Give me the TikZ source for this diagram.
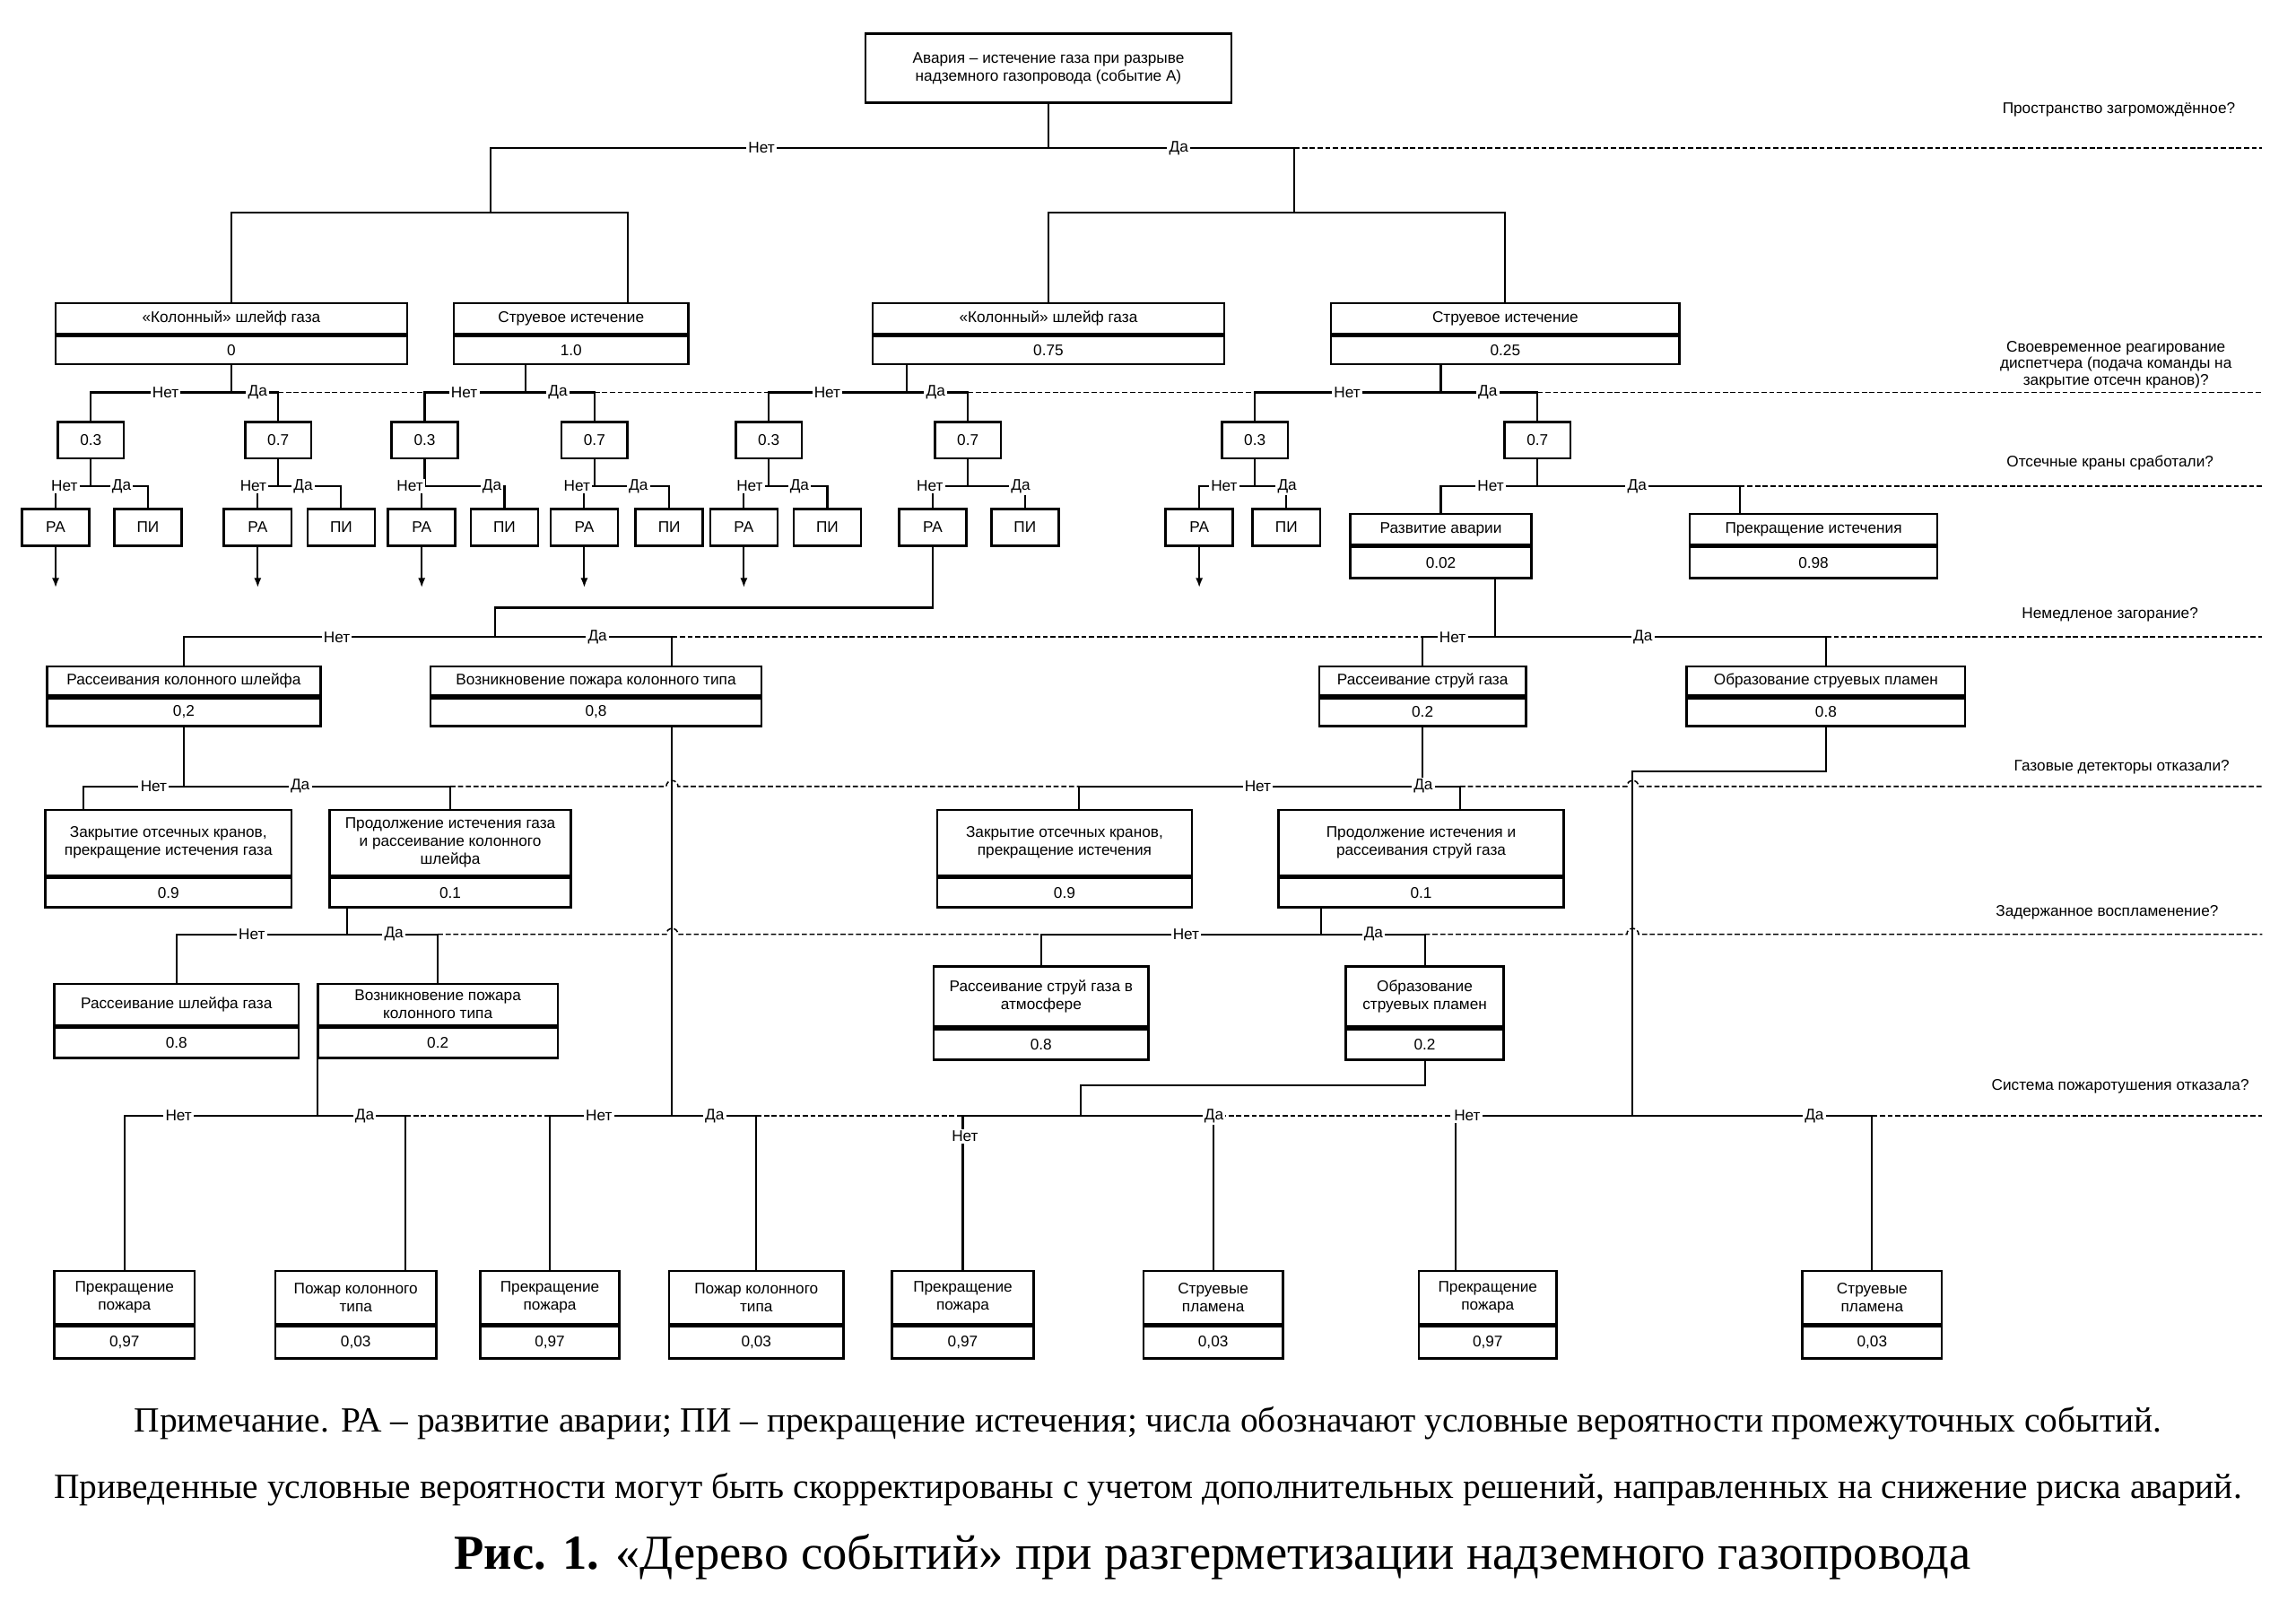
\documentclass[tikz,border=0pt]{standalone}
\usepackage{fontspec}
\setmainfont{Liberation Serif}
\setsansfont{Liberation Sans}
\usetikzlibrary{arrows.meta,backgrounds}

\begin{document}
\begin{tikzpicture}[x=0.03cm, y=-0.03cm,
  every node/.style={font=\sffamily\fontsize{9}{10.5}\selectfont},
  >={Latex[length=2mm]},
  box/.style={draw, line width=1.4pt, fill=white, align=center, inner sep=1pt},
  sm/.style={box, minimum width=1.38cm, minimum height=0.75cm},
  lbl/.style={fill=white, inner sep=1.2pt},
  qst/.style={align=center},
  con/.style={line width=1.1pt},
  dsh/.style={line width=0.8pt, dash pattern=on 3pt off 1.5pt}]
\useasboundingbox (0,0) rectangle (1568,1105);

% исходное событие
\node[box, minimum width=7.5cm, minimum height=1.41cm] (acc) at (716,46.5) {Авария – истечение газа при разрыве\\надземного газопровода (событие А)};

% вид истечения
\node[box, minimum width=7.2cm, minimum height=0.63cm] (k1) at (158,217.5) {«Колонный» шлейф газа};
\node[box, minimum width=7.2cm, minimum height=0.57cm, anchor=north] (k1v) at (k1.south) {0};
\node[box, minimum width=4.8cm, minimum height=0.63cm] (s1) at (390,217.5) {Струевое истечение};
\node[box, minimum width=4.8cm, minimum height=0.57cm, anchor=north] (s1v) at (s1.south) {1.0};
\node[box, minimum width=7.2cm, minimum height=0.63cm] (k2) at (716,217.5) {«Колонный» шлейф газа};
\node[box, minimum width=7.2cm, minimum height=0.57cm, anchor=north] (k2v) at (k2.south) {0.75};
\node[box, minimum width=7.14cm, minimum height=0.63cm] (s2) at (1028,217.5) {Струевое истечение};
\node[box, minimum width=7.14cm, minimum height=0.57cm, anchor=north] (s2v) at (s2.south) {0.25};

% реакция диспетчера
\node[sm, minimum width=1.35cm] (p1) at (62,300.5) {0.3};
\node[sm, minimum width=1.35cm] (p2) at (190,300.5) {0.7};
\node[sm, minimum width=1.35cm] (p3) at (290,300.5) {0.3};
\node[sm, minimum width=1.35cm] (p4) at (406,300.5) {0.7};
\node[sm, minimum width=1.35cm] (p5) at (525,300.5) {0.3};
\node[sm, minimum width=1.35cm] (p6) at (661,300.5) {0.7};
\node[sm, minimum width=1.35cm] (p7) at (857,300.5) {0.3};
\node[sm, minimum width=1.35cm] (p8) at (1050,300.5) {0.7};

% краны
\node[sm] (ra1) at (38,360) {РА};
\node[sm] (pi1) at (101,360) {ПИ};
\node[sm] (ra2) at (176,360) {РА};
\node[sm] (pi2) at (233,360) {ПИ};
\node[sm] (ra3) at (288,360) {РА};
\node[sm] (pi3) at (344.5,360) {ПИ};
\node[sm] (ra4) at (399,360) {РА};
\node[sm] (pi4) at (457,360) {ПИ};
\node[sm] (ra5) at (508,360) {РА};
\node[sm] (pi5) at (565,360) {ПИ};
\node[sm] (ra6) at (637,360) {РА};
\node[sm] (pi6) at (700,360) {ПИ};
\node[sm] (ra7) at (819,360) {РА};
\node[sm] (pi7) at (878.5,360) {ПИ};
\node[box, minimum width=3.72cm, minimum height=0.63cm] (raz) at (984,361.5) {Развитие аварии};
\node[box, minimum width=3.72cm, minimum height=0.63cm, anchor=north] (razv) at (raz.south) {0.02};
\node[box, minimum width=5.07cm, minimum height=0.63cm] (piz) at (1238.5,361.5) {Прекращение истечения};
\node[box, minimum width=5.07cm, minimum height=0.63cm, anchor=north] (pizv) at (piz.south) {0.98};

% загорание
\node[box, minimum width=5.61cm, minimum height=0.6cm] (rk) at (125.5,465) {Рассеивания колонного шлейфа};
\node[box, minimum width=5.61cm, minimum height=0.57cm, anchor=north] (rkv) at (rk.south) {0,2};
\node[box, minimum width=6.78cm, minimum height=0.6cm] (vk) at (407,465) {Возникновение пожара колонного типа};
\node[box, minimum width=6.78cm, minimum height=0.57cm, anchor=north] (vkv) at (vk.south) {0,8};
\node[box, minimum width=4.23cm, minimum height=0.6cm] (rs) at (971.5,465) {Рассеивание струй газа};
\node[box, minimum width=4.23cm, minimum height=0.57cm, anchor=north] (rsv) at (rs.south) {0.2};
\node[box, minimum width=5.7cm, minimum height=0.6cm] (os) at (1247,465) {Образование струевых пламен};
\node[box, minimum width=5.7cm, minimum height=0.57cm, anchor=north] (osv) at (os.south) {0.8};

% детекторы
\node[box, minimum width=5.04cm, minimum height=1.35cm] (zk) at (115,575.5) {Закрытие отсечных кранов,\\прекращение истечения газа};
\node[box, minimum width=5.04cm, minimum height=0.6cm, anchor=north] (zkv) at (zk.south) {0.9};
\node[box, minimum width=4.95cm, minimum height=1.35cm] (pk) at (307.5,575.5) {Продолжение истечения газа\\и рассеивание колонного\\шлейфа};
\node[box, minimum width=4.95cm, minimum height=0.6cm, anchor=north] (pkv) at (pk.south) {0.1};
\node[box, minimum width=5.22cm, minimum height=1.35cm] (zs) at (727,575.5) {Закрытие отсечных кранов,\\прекращение истечения};
\node[box, minimum width=5.22cm, minimum height=0.6cm, anchor=north] (zsv) at (zs.south) {0.9};
\node[box, minimum width=5.85cm, minimum height=1.35cm] (ps) at (970.5,575.5) {Продолжение истечения и\\рассеивания струй газа};
\node[box, minimum width=5.85cm, minimum height=0.6cm, anchor=north] (psv) at (ps.south) {0.1};

% задержанное воспламенение
\node[box, minimum width=5.01cm, minimum height=0.84cm] (rsh) at (120.5,686) {Рассеивание шлейфа газа};
\node[box, minimum width=5.01cm, minimum height=0.63cm, anchor=north] (rshv) at (rsh.south) {0.8};
\node[box, minimum width=4.92cm, minimum height=0.84cm] (vk2) at (299,686) {Возникновение пожара\\колонного типа};
\node[box, minimum width=4.92cm, minimum height=0.63cm, anchor=north] (vk2v) at (vk2.south) {0.2};
\node[box, minimum width=4.4cm, minimum height=1.23cm] (ra) at (711,680.5) {Рассеивание струй газа в\\атмосфере};
\node[box, minimum width=4.4cm, minimum height=0.63cm, anchor=north] (rav) at (ra.south) {0.8};
\node[box, minimum width=3.24cm, minimum height=1.23cm] (ob) at (973,680.5) {Образование\\струевых пламен};
\node[box, minimum width=3.24cm, minimum height=0.63cm, anchor=north] (obv) at (ob.south) {0.2};

% исходы
\node[box, minimum width=2.88cm, minimum height=1.08cm] (b1) at (85,886) {Прекращение\\пожара};
\node[box, minimum width=2.88cm, minimum height=0.66cm, anchor=north] (b1v) at (b1.south) {0,97};
\node[box, minimum width=3.3cm, minimum height=1.08cm] (b2) at (243,886) {Пожар колонного\\типа};
\node[box, minimum width=3.3cm, minimum height=0.66cm, anchor=north] (b2v) at (b2.south) {0,03};
\node[box, minimum width=2.85cm, minimum height=1.08cm] (b3) at (375.5,886) {Прекращение\\пожара};
\node[box, minimum width=2.85cm, minimum height=0.66cm, anchor=north] (b3v) at (b3.south) {0,97};
\node[box, minimum width=3.57cm, minimum height=1.08cm] (b4) at (516.5,886) {Пожар колонного\\типа};
\node[box, minimum width=3.57cm, minimum height=0.66cm, anchor=north] (b4v) at (b4.south) {0,03};
\node[box, minimum width=2.91cm, minimum height=1.08cm] (b5) at (657.5,886) {Прекращение\\пожара};
\node[box, minimum width=2.91cm, minimum height=0.66cm, anchor=north] (b5v) at (b5.south) {0,97};
\node[box, minimum width=2.85cm, minimum height=1.08cm] (b6) at (828.5,886) {Струевые\\пламена};
\node[box, minimum width=2.85cm, minimum height=0.66cm, anchor=north] (b6v) at (b6.south) {0,03};
\node[box, minimum width=2.82cm, minimum height=1.08cm] (b7) at (1016,886) {Прекращение\\пожара};
\node[box, minimum width=2.82cm, minimum height=0.66cm, anchor=north] (b7v) at (b7.south) {0,97};
\node[box, minimum width=2.85cm, minimum height=1.08cm] (b8) at (1278.5,886) {Струевые\\пламена};
\node[box, minimum width=2.85cm, minimum height=0.66cm, anchor=north] (b8v) at (b8.south) {0,03};

% Нет / Да
\node[lbl] (n1) at (520,101) {Нет};
\node[lbl] (d1) at (805,101) {Да};
\node[lbl] (n2a) at (113,268) {Нет};
\node[lbl] (d2a) at (176,268) {Да};
\node[lbl] (n2b) at (317,268) {Нет};
\node[lbl] (d2b) at (381,268) {Да};
\node[lbl] (n2c) at (565,268) {Нет};
\node[lbl] (d2c) at (639,268) {Да};
\node[lbl] (n2d) at (920,268) {Нет};
\node[lbl] (d2d) at (1016,268) {Да};
\node[lbl] (n3a) at (44,332) {Нет};
\node[lbl] (d3a) at (83,332) {Да};
\node[lbl] (n3b) at (173,332) {Нет};
\node[lbl] (d3b) at (207,332) {Да};
\node[lbl] (n3c) at (280,332) {Нет};
\node[lbl] (d3c) at (336,332) {Да};
\node[lbl] (n3d) at (394,332) {Нет};
\node[lbl] (d3d) at (436,332) {Да};
\node[lbl] (n3e) at (512,332) {Нет};
\node[lbl] (d3e) at (546,332) {Да};
\node[lbl] (n3f) at (635,332) {Нет};
\node[lbl] (d3f) at (697,332) {Да};
\node[lbl] (n3g) at (836,332) {Нет};
\node[lbl] (d3g) at (879,332) {Да};
\node[lbl] (n3h) at (1018,332) {Нет};
\node[lbl] (d3h) at (1118,332) {Да};
\node[lbl] (n4a) at (230,435) {Нет};
\node[lbl] (d4a) at (408,435) {Да};
\node[lbl] (n4b) at (992,435) {Нет};
\node[lbl] (d4b) at (1122,435) {Да};
\node[lbl] (n5a) at (105,537) {Нет};
\node[lbl] (d5a) at (205,537) {Да};
\node[lbl] (n5b) at (859,537) {Нет};
\node[lbl] (d5b) at (972,537) {Да};
\node[lbl] (n6a) at (172,638) {Нет};
\node[lbl] (d6a) at (269,638) {Да};
\node[lbl] (n6b) at (810,638) {Нет};
\node[lbl] (d6b) at (938,638) {Да};
\node[lbl] (n7a) at (122,762) {Нет};
\node[lbl] (d7a) at (249,762) {Да};
\node[lbl] (n7b) at (409,762) {Нет};
\node[lbl] (d7b) at (488,762) {Да};
\node[lbl] (n7c) at (659,776) {Нет};
\node[lbl] (d7c) at (829,762) {Да};
\node[lbl] (n7d) at (1002,762) {Нет};
\node[lbl] (d7d) at (1239,762) {Да};

% вопросы
\node[qst] (q1) at (1447,75) {Пространство загромождённое?};
\node[qst, font=\sffamily\fontsize{9}{9.6}\selectfont] (q2) at (1445,249) {Своевременное реагирование\\диспетчера (подача команды на\\закрытие отсечн кранов)?};
\node[qst] (q3) at (1441,316) {Отсечные краны сработали?};
\node[qst] (q4) at (1441,420) {Немедленое загорание?};
\node[qst] (q5) at (1449,524) {Газовые детекторы отказали?};
\node[qst] (q6) at (1439,623) {Задержанное воспламенение?};
\node[qst] (q7) at (1448,742) {Система пожаротушения отказала?};

% подписи
\node[font=\rmfamily\fontsize{20.6}{25}\selectfont] (note1) at (784,972) {Примечание. РА – развитие аварии; ПИ – прекращение истечения; числа обозначают условные вероятности промежуточных событий.};
\node[font=\rmfamily\fontsize{20.6}{25}\selectfont] (note2) at (784,1017) {Приведенные условные вероятности могут быть скорректированы с учетом дополнительных решений, направленных на снижение риска аварий.};
\node[font=\rmfamily\fontsize{28.5}{32}\selectfont] (cap) at (828,1063) {\textbf{Рис. 1.} «Дерево событий» при разгерметизации надземного газопровода};

% точки ветвления
\coordinate (jl) at (335,145);
\coordinate (jr) at (884,145);
\coordinate (j6) at (338,415);
\coordinate (osj) at (1115,527);
\coordinate (obj) at (738,741);
\coordinate (s1t) at ([xshift=1.17cm]s1.north);
\coordinate (s1d) at ([xshift=-0.93cm]s1v.south);
\coordinate (k2d) at ([xshift=-2.91cm]k2v.south);
\coordinate (s2d) at ([xshift=-1.32cm]s2v.south);
\coordinate (pizt) at ([xshift=-1.515cm]piz.north);
\coordinate (razd) at ([xshift=1.11cm]razv.south);
\coordinate (vkt) at ([xshift=1.56cm]vk.north);
\coordinate (vkb) at ([xshift=1.56cm]vkv.south);
\coordinate (zkt) at ([xshift=-1.74cm]zk.north);
\coordinate (zst) at ([xshift=0.3cm]zs.north);
\coordinate (pst) at ([xshift=0.8cm]ps.north);
\coordinate (pkd) at ([xshift=-2.115cm]pkv.south);
\coordinate (psd) at ([xshift=-2.055cm]psv.south);
\coordinate (vk2d) at ([xshift=-2.46cm]vk2v.south);
\coordinate (b2t) at ([xshift=1.02cm]b2.north);
\coordinate (b7t) at ([xshift=-0.66cm]b7.north);
\coordinate (h5a) at (vkb |- n5a.center);
\coordinate (h5b) at (osj |- n5b.center);
\coordinate (h6a) at (vkb |- n6a.center);
\coordinate (h6b) at (osj |- n6b.center);
\coordinate (e1) at (1545,101);
\coordinate (e2) at (1545,268);
\coordinate (e3) at (1545,332);
\coordinate (e4) at (1545,435);
\coordinate (e5) at (1545,537);
\coordinate (e6) at (1545,638);
\coordinate (e7) at (1545,762);

\begin{scope}[on background layer]
% уровень 1
\draw[con] (acc.south) -- (acc.south |- n1.center);
\draw[con] (jl) -- (jl |- n1.center) -- (jr |- n1.center) -- (jr);
\draw[dsh] (jr |- n1.center) -- (e1);
\draw[con] (k1.north) |- (jl) -| (s1t);
\draw[con] (k2.north) |- (jr) -| (s2.north);
% уровень 2
\draw[con] (k1v.south) -- (k1v.south |- n2a.center);
\draw[con] (p1.north) -- (p1.north |- n2a.center) -- (p2.north |- n2a.center) -- (p2.north);
\draw[dsh] (p2.north |- n2a.center) -- (p3.north |- n2b.center);
\draw[con] (s1d) -- (s1d |- n2b.center);
\draw[con] (p3.north) -- (p3.north |- n2b.center) -- (p4.north |- n2b.center) -- (p4.north);
\draw[dsh] (p4.north |- n2b.center) -- (p5.north |- n2c.center);
\draw[con] (k2d) -- (k2d |- n2c.center);
\draw[con] (p5.north) -- (p5.north |- n2c.center) -- (p6.north |- n2c.center) -- (p6.north);
\draw[dsh] (p6.north |- n2c.center) -- (p7.north |- n2d.center);
\draw[con] (s2d) -- (s2d |- n2d.center);
\draw[con] (p7.north) -- (p7.north |- n2d.center) -- (p8.north |- n2d.center) -- (p8.north);
\draw[dsh] (p8.north |- n2d.center) -- (e2);
% уровень 3
\draw[con] (p1.south) -- (p1.south |- n3a.center);
\draw[con] (ra1.north) -- (ra1.north |- n3a.center) -- (pi1.north |- n3a.center) -- (pi1.north);
\draw[con] (p2.south) -- (p2.south |- n3b.center);
\draw[con] (ra2.north) -- (ra2.north |- n3b.center) -- (pi2.north |- n3b.center) -- (pi2.north);
\draw[con] (p3.south) -- (p3.south |- n3c.center);
\draw[con] (ra3.north) -- (ra3.north |- n3c.center) -- (pi3.north |- n3c.center) -- (pi3.north);
\draw[con] (p4.south) -- (p4.south |- n3d.center);
\draw[con] (ra4.north) -- (ra4.north |- n3d.center) -- (pi4.north |- n3d.center) -- (pi4.north);
\draw[con] (p5.south) -- (p5.south |- n3e.center);
\draw[con] (ra5.north) -- (ra5.north |- n3e.center) -- (pi5.north |- n3e.center) -- (pi5.north);
\draw[con] (p6.south) -- (p6.south |- n3f.center);
\draw[con] (ra6.north) -- (ra6.north |- n3f.center) -- (pi6.north |- n3f.center) -- (pi6.north);
\draw[con] (p7.south) -- (p7.south |- n3g.center);
\draw[con] (ra7.north) -- (ra7.north |- n3g.center) -- (pi7.north |- n3g.center) -- (pi7.north);
\draw[con] (p8.south) -- (p8.south |- n3h.center);
\draw[con] (raz.north) -- (raz.north |- n3h.center) -- (pizt |- n3h.center) -- (pizt);
\draw[dsh] (pizt |- n3h.center) -- (e3);
% уровень 4
\draw[con] (ra6.south) |- (j6) -- (j6 |- n4a.center);
\draw[con] (rk.north) -- (rk.north |- n4a.center) -- (vkt |- n4a.center) -- (vkt);
\draw[dsh] (vkt |- n4a.center) -- (rs.north |- n4b.center);
\draw[con] (razd) -- (razd |- n4b.center);
\draw[con] (rs.north) -- (rs.north |- n4b.center) -- (os.north |- n4b.center) -- (os.north);
\draw[dsh] (os.north |- n4b.center) -- (e4);
% уровень 5
\draw[con] (rkv.south) -- (rkv.south |- n5a.center);
\draw[con] (zkt) -- (zkt |- n5a.center) -- (pk.north |- n5a.center) -- (pk.north);
\draw[dsh] (pk.north |- n5a.center) -- ([xshift=-0.12cm]h5a) arc[start angle=180, end angle=0, radius=0.12cm] -- (zst |- n5b.center);
\draw[con] (rsv.south) -- (rsv.south |- n5b.center);
\draw[con] (zst) -- (zst |- n5b.center) -- (pst |- n5b.center) -- (pst);
\draw[dsh] (pst |- n5b.center) -- ([xshift=-0.12cm]h5b) arc[start angle=180, end angle=0, radius=0.12cm] -- (e5);
\draw[con] (vkb) -- (vkb |- n7b.center);
\draw[con] (osv.south) |- (osj) -- (osj |- n7d.center);
% уровень 6
\draw[con] (pkd) -- (pkd |- n6a.center);
\draw[con] (rsh.north) -- (rsh.north |- n6a.center) -- (vk2.north |- n6a.center) -- (vk2.north);
\draw[dsh] (vk2.north |- n6a.center) -- ([xshift=-0.12cm]h6a) arc[start angle=180, end angle=0, radius=0.12cm] -- (ra.north |- n6b.center);
\draw[con] (psd) -- (psd |- n6b.center);
\draw[con] (ra.north) -- (ra.north |- n6b.center) -- (ob.north |- n6b.center) -- (ob.north);
\draw[dsh] (ob.north |- n6b.center) -- ([xshift=-0.12cm]h6b) arc[start angle=180, end angle=0, radius=0.12cm] -- (e6);
% уровень 7
\draw[con] (vk2d) -- (vk2d |- n7a.center);
\draw[con] (b1.north) -- (b1.north |- n7a.center) -- (b2t |- n7a.center) -- (b2t);
\draw[dsh] (b2t |- n7a.center) -- (b3.north |- n7b.center);
\draw[con] (b3.north) -- (b3.north |- n7b.center) -- (b4.north |- n7b.center) -- (b4.north);
\draw[dsh] (b4.north |- n7b.center) -- (b5.north |- d7c.center);
\draw[con] (obv.south) |- (obj) -- (obj |- d7c.center);
\draw[con] (b5.north) -- (b5.north |- d7c.center) -- (b6.north |- d7c.center) -- (b6.north);
\draw[dsh] (b6.north |- d7c.center) -- (b7t |- n7d.center);
\draw[con] (b7t) -- (b7t |- n7d.center) -- (b8.north |- n7d.center) -- (b8.north);
\draw[dsh] (b8.north |- n7d.center) -- (e7);
\end{scope}

% стрелки от РА
\coordinate (ra1e) at ([yshift=-0.84cm]ra1.south);
\coordinate (ra2e) at ([yshift=-0.84cm]ra2.south);
\coordinate (ra3e) at ([yshift=-0.84cm]ra3.south);
\coordinate (ra4e) at ([yshift=-0.84cm]ra4.south);
\coordinate (ra5e) at ([yshift=-0.84cm]ra5.south);
\coordinate (ra7e) at ([yshift=-0.84cm]ra7.south);
\draw[con, ->] (ra1.south) -- (ra1e);
\draw[con, ->] (ra2.south) -- (ra2e);
\draw[con, ->] (ra3.south) -- (ra3e);
\draw[con, ->] (ra4.south) -- (ra4e);
\draw[con, ->] (ra5.south) -- (ra5e);
\draw[con, ->] (ra7.south) -- (ra7e);
\end{tikzpicture}
\end{document}
